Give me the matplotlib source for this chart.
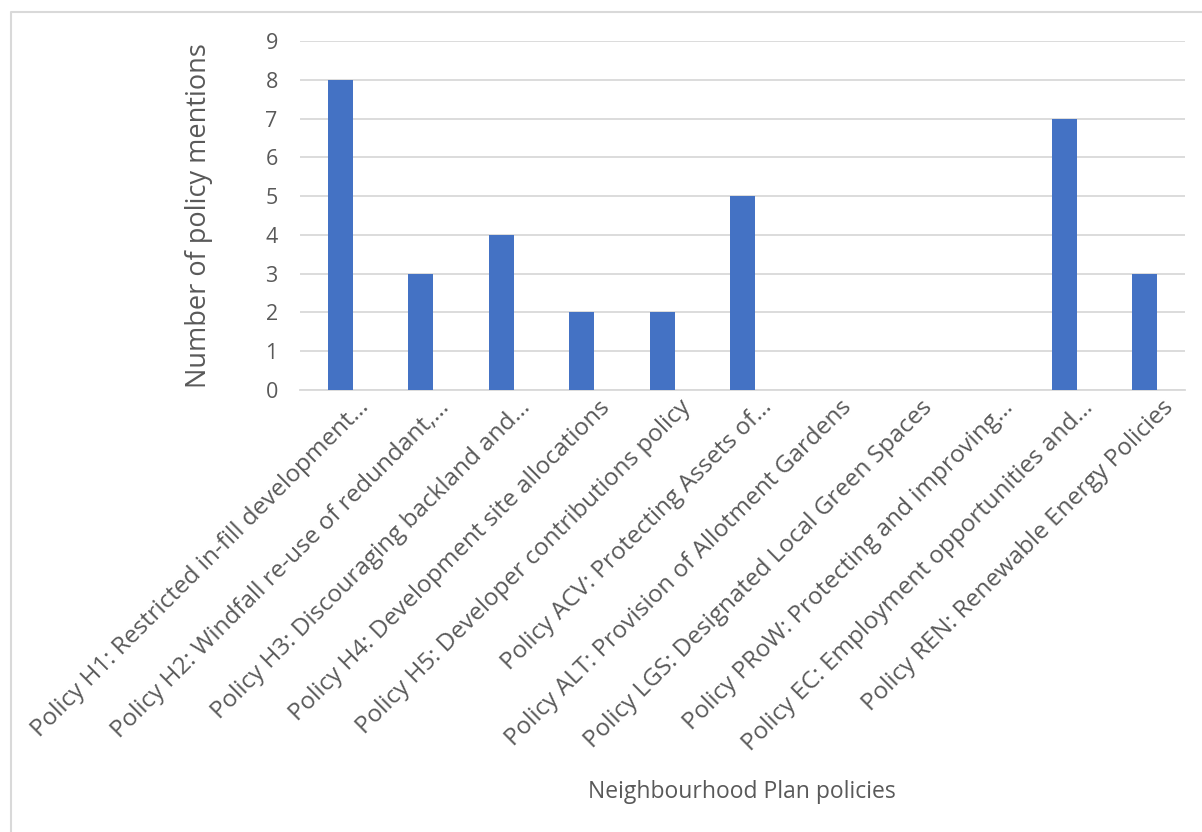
import matplotlib
matplotlib.use('Agg')
import matplotlib.pyplot as plt
from matplotlib.lines import Line2D
from matplotlib.transforms import ScaledTranslation
import numpy as np

plt.rcParams['font.family'] = ['Open Sans', 'DejaVu Sans']

# policies and number of mentions
policies = [
    'Policy H1: Restricted in-fill development…',
    'Policy H2: Windfall re-use of redundant,…',
    'Policy H3: Discouraging backland and…',
    'Policy H4: Development site allocations',
    'Policy H5: Developer contributions policy',
    'Policy ACV: Protecting Assets of…',
    'Policy ALT: Provision of Allotment Gardens',
    'Policy LGS: Designated Local Green Spaces',
    'Policy PRoW: Protecting and improving…',
    'Policy EC: Employment opportunities and…',
    'Policy REN: Renewable Energy Policies',
]
mentions = [8, 3, 4, 2, 2, 5, 0, 0, 0, 7, 3]
yticks = list(range(0, 10))

txt = '#595959'
grid = '#D9D9D9'

fig = plt.figure(figsize=(12.02, 8.32), dpi=100)
ax = fig.add_axes([300 / 1202, 1 - 390 / 832, 885 / 1202, 349 / 832])

x = np.arange(len(policies))
ax.bar(x, mentions, width=0.31, color='#4472C4', zorder=3)

ax.set_xlim(-0.5, len(policies) - 0.5)
ax.set_ylim(0, 9)
ax.set_yticks(yticks)
ax.yaxis.grid(True, color=grid, linewidth=1.3, zorder=0)
ax.tick_params(axis='y', length=0, pad=16, labelsize=15.5, labelcolor=txt)
ax.tick_params(axis='x', length=0, pad=4, labelsize=17.5, labelcolor=txt)
for s in ['top', 'right', 'left']:
    ax.spines[s].set_visible(False)
ax.spines['bottom'].set_color(grid)
ax.spines['bottom'].set_linewidth(1.3)

ax.set_xticks(x)
ax.set_xticklabels(policies, rotation=45, ha='right', va='top', rotation_mode='anchor')
off = ScaledTranslation(0.17, 0, fig.dpi_scale_trans)
for lab in ax.get_xticklabels():
    lab.set_transform(lab.get_transform() + off)

ax.set_ylabel('Number of policy mentions', fontsize=19.5, color=txt, labelpad=38)
fig.text(742 / 1202, 1 - 792 / 832, 'Neighbourhood Plan policies', fontsize=16.5,
         color=txt, ha='center', va='center')

# chart area frame
fig.add_artist(Line2D([11 / 1202, 11 / 1202, 1.0], [0.0, 1 - 12 / 832, 1 - 12 / 832],
                      transform=fig.transFigure, color=grid, linewidth=1.5))

fig.savefig('out.png', dpi=100)
